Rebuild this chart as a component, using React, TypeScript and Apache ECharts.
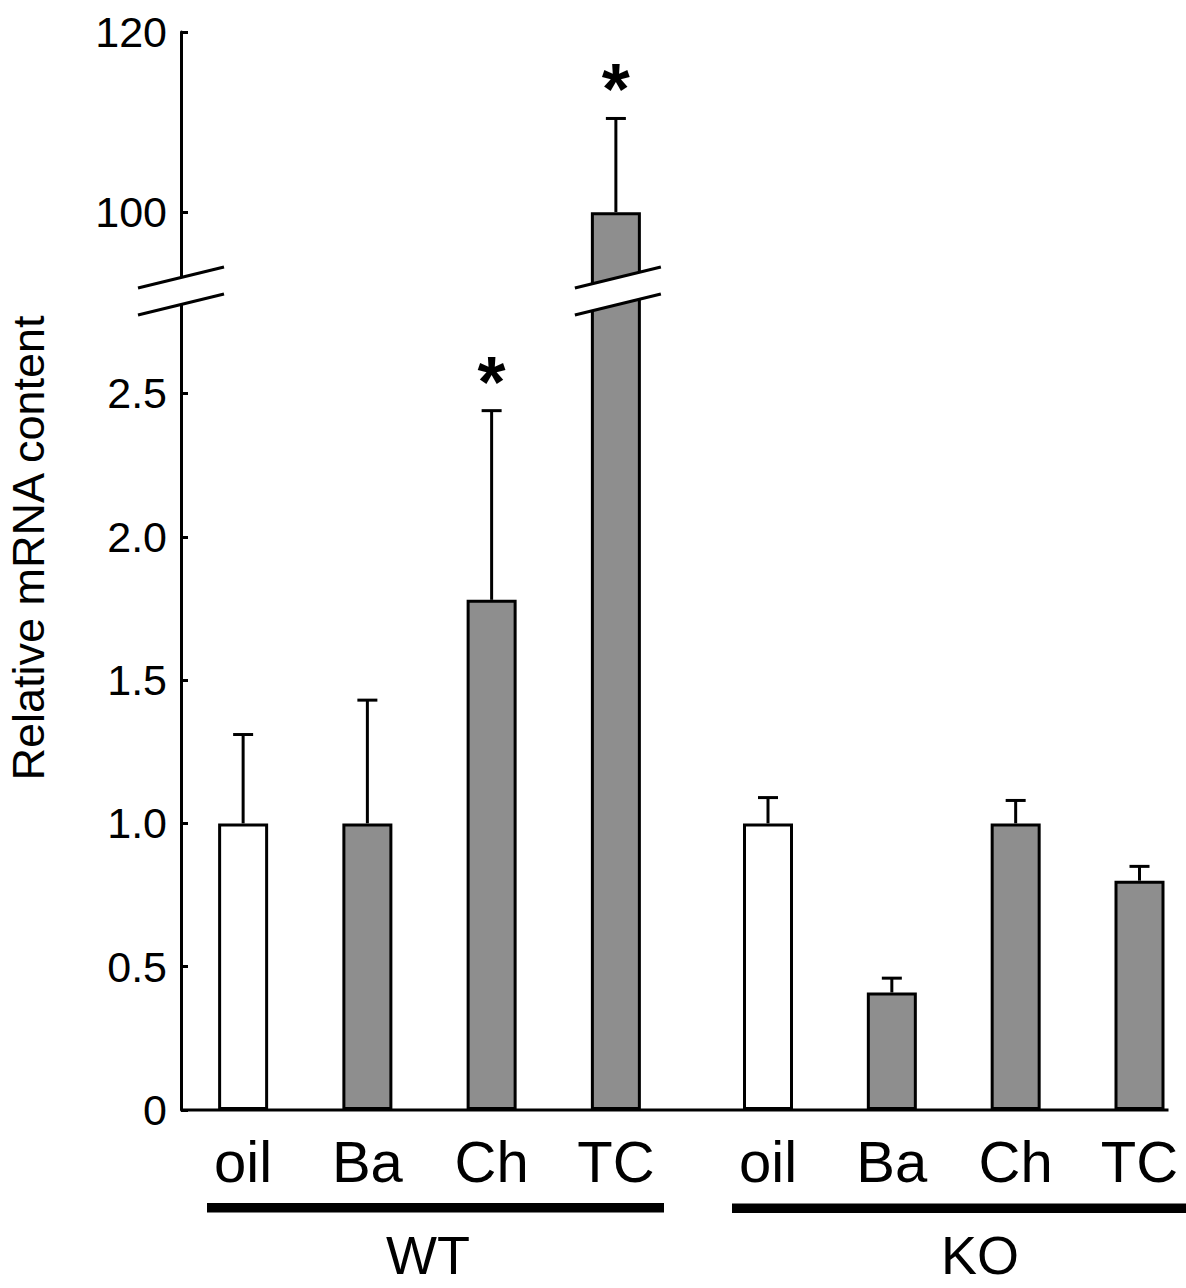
import React, { useEffect, useRef } from "react";
import * as echarts from "echarts";

const categories = ["oil", "Ba", "Ch", "TC"];
const wtMeans = [1.0, 1.0, 1.78, 100];
const wtErrors = [0.31, 0.43, 0.66, 10.4];
const wtStars = ["", "", "*", "*"];
const koMeans = [1.0, 0.41, 1.0, 0.8];
const koErrors = [0.09, 0.05, 0.08, 0.05];
const koStars = ["", "", "", ""];
const barColors = ["#ffffff", "#8e8e8e", "#8e8e8e", "#8e8e8e"];
const lowerTicks = [0, 0.5, 1, 1.5, 2, 2.5];
const upperTicks = [100, 120];
const groupNames = ["WT", "KO"];
const yTitle = "Relative mRNA content";

const LOWER_MIN = 0;
const LOWER_MAX = 2.84;
const UPPER_MIN = 91.8;
const UPPER_MAX = 120;

const FONT = "'Liberation Sans', Arial, Helvetica, sans-serif";

const GRID_WT_LEFT = 181;
const GRID_WT_WIDTH = 497;
const GRID_KO_LEFT = 768;
const GRID_KO_WIDTH = 371.5;
const LOWER_TOP = 296;
const LOWER_HEIGHT = 814;
const UPPER_TOP = 32;
const UPPER_HEIGHT = 254;

function errorSeries(
  xIdx: number,
  yIdx: number,
  means: number[],
  errors: number[],
  stars: string[],
  yMin: number,
  yMax: number
) {
  return {
    type: "custom",
    xAxisIndex: xIdx,
    yAxisIndex: yIdx,
    z: 3,
    data: means.map((m, i) => [i, m, m + errors[i]]),
    renderItem: (params: any, api: any) => {
      const i = api.value(0);
      const m = api.value(1);
      const top = api.value(2);
      if (m > yMax || m < yMin) return null;
      const p0 = api.coord([i, m]);
      const p1 = api.coord([i, top]);
      const children: any[] = [
        {
          type: "line",
          shape: { x1: p0[0], y1: p0[1], x2: p1[0], y2: p1[1] },
          style: { stroke: "#000", lineWidth: 3 },
        },
        {
          type: "line",
          shape: { x1: p1[0] - 10, y1: p1[1], x2: p1[0] + 10, y2: p1[1] },
          style: { stroke: "#000", lineWidth: 3 },
        },
      ];
      if (stars[i]) {
        children.push({
          type: "text",
          x: p1[0],
          y: p1[1] - 29,
          style: {
            text: stars[i],
            fontSize: 72,
            fontWeight: "bold",
            fontFamily: FONT,
            align: "center",
            verticalAlign: "middle",
            fill: "#000",
          },
        });
      }
      return { type: "group", children };
    },
  };
}

function barSeries(xIdx: number, yIdx: number, means: number[], yMin: number, clip: boolean) {
  return {
    type: "bar",
    xAxisIndex: xIdx,
    yAxisIndex: yIdx,
    barWidth: 50,
    clip,
    data: means.map((v, i) => ({
      value: v >= yMin ? v : "-",
      itemStyle: { color: barColors[i], borderColor: "#000", borderWidth: 3 },
    })),
  };
}

function catAxis(gridIndex: number, showLabels: boolean, boundaryGap: boolean) {
  return {
    type: "category",
    gridIndex,
    data: categories,
    boundaryGap,
    axisLine: { show: false },
    axisTick: { show: false },
    axisLabel: {
      show: showLabels,
      fontSize: 58,
      fontFamily: FONT,
      color: "#000",
      margin: 22,
    },
    splitLine: { show: false },
  };
}

function valAxis(gridIndex: number, min: number, max: number, ticks: number[], show: boolean) {
  return {
    type: "value",
    gridIndex,
    min,
    max,
    show,
    axisLine: { show: true, lineStyle: { color: "#000", width: 3 } },
    axisTick: {
      show: true,
      inside: true,
      length: 7,
      lineStyle: { color: "#000", width: 3 },
      customValues: ticks,
    },
    axisLabel: {
      fontSize: 43,
      fontFamily: FONT,
      color: "#000",
      margin: 14,
      customValues: ticks,
      formatter: (v: number) => (v === 0 ? "0" : v >= 10 ? String(v) : v.toFixed(1)),
    },
    splitLine: { show: false },
  };
}

function breakMark(cx: number, cy: number) {
  const half = 43;
  const rise = 10.5;
  const sep = 13.5;
  const upper = [cx - half, cy - sep + rise, cx + half, cy - sep - rise];
  const lower = [cx - half, cy + sep + rise, cx + half, cy + sep - rise];
  return [
    {
      type: "polygon",
      z: 100,
      shape: {
        points: [
          [upper[0], upper[1]],
          [upper[2], upper[3]],
          [lower[2], lower[3]],
          [lower[0], lower[1]],
        ],
      },
      style: { fill: "#ffffff", stroke: null },
    },
    {
      type: "line",
      z: 101,
      shape: { x1: upper[0], y1: upper[1], x2: upper[2], y2: upper[3] },
      style: { stroke: "#000", lineWidth: 3 },
    },
    {
      type: "line",
      z: 101,
      shape: { x1: lower[0], y1: lower[1], x2: lower[2], y2: lower[3] },
      style: { stroke: "#000", lineWidth: 3 },
    },
  ];
}

export default function App() {
  const ref = useRef<HTMLDivElement>(null);
  useEffect(() => {
    if (!ref.current) return;
    const chart = echarts.init(ref.current, undefined, { renderer: "svg" });
    chart.setOption({
      animation: false,
      backgroundColor: "#ffffff",
      grid: [
        { left: GRID_WT_LEFT, top: LOWER_TOP, width: GRID_WT_WIDTH, height: LOWER_HEIGHT },
        { left: GRID_KO_LEFT, top: LOWER_TOP, width: GRID_KO_WIDTH, height: LOWER_HEIGHT },
        { left: GRID_WT_LEFT, top: UPPER_TOP, width: GRID_WT_WIDTH, height: UPPER_HEIGHT },
      ],
      xAxis: [catAxis(0, true, true), catAxis(1, true, false), catAxis(2, false, true)],
      yAxis: [
        valAxis(0, LOWER_MIN, LOWER_MAX, lowerTicks, true),
        valAxis(1, LOWER_MIN, LOWER_MAX, lowerTicks, false),
        valAxis(2, UPPER_MIN, UPPER_MAX, upperTicks, true),
      ],
      series: [
        barSeries(0, 0, wtMeans, LOWER_MIN, true),
        barSeries(1, 1, koMeans, LOWER_MIN, false),
        barSeries(2, 2, wtMeans, UPPER_MIN, true),
        errorSeries(0, 0, wtMeans, wtErrors, wtStars, LOWER_MIN, LOWER_MAX),
        errorSeries(1, 1, koMeans, koErrors, koStars, LOWER_MIN, LOWER_MAX),
        errorSeries(2, 2, wtMeans, wtErrors, wtStars, UPPER_MIN, UPPER_MAX),
      ],
    });

    const base = chart.convertToPixel({ xAxisIndex: 0, yAxisIndex: 0 }, ["oil", 0]) as number[];
    const tc = chart.convertToPixel({ xAxisIndex: 0, yAxisIndex: 0 }, ["TC", 0]) as number[];
    const koLast = chart.convertToPixel({ xAxisIndex: 1, yAxisIndex: 1 }, ["TC", 0]) as number[];
    const baseY = base[1];
    const breakY = 291;

    chart.setOption({
      graphic: [
        {
          type: "line",
          z: 50,
          shape: { x1: GRID_WT_LEFT, y1: baseY, x2: koLast[0] + 29, y2: baseY },
          style: { stroke: "#000", lineWidth: 3 },
        },
        ...breakMark(GRID_WT_LEFT, breakY),
        ...breakMark(tc[0] + 2, breakY),
        {
          type: "rect",
          z: 50,
          shape: { x: 207, y: 1203, width: 457, height: 9.5 },
          style: { fill: "#000" },
        },
        {
          type: "rect",
          z: 50,
          shape: { x: 732, y: 1203.5, width: 460, height: 9.5 },
          style: { fill: "#000" },
        },
        {
          type: "text",
          z: 50,
          x: 428,
          y: 1255,
          style: {
            text: groupNames[0],
            fontSize: 54,
            fontFamily: FONT,
            align: "center",
            verticalAlign: "middle",
            fill: "#000",
          },
        },
        {
          type: "text",
          z: 50,
          x: 980,
          y: 1255,
          style: {
            text: groupNames[1],
            fontSize: 54,
            fontFamily: FONT,
            align: "center",
            verticalAlign: "middle",
            fill: "#000",
          },
        },
        {
          type: "text",
          z: 50,
          x: 28,
          y: 548,
          rotation: Math.PI / 2,
          style: {
            text: yTitle,
            fontSize: 45,
            fontFamily: FONT,
            align: "center",
            verticalAlign: "middle",
            fill: "#000",
          },
        },
      ],
    });

    return () => chart.dispose();
  }, []);
  return (
    <div
      ref={ref}
      style={{ position: "absolute", left: 0, top: 0, width: 1186, height: 1288 }}
    />
  );
}
